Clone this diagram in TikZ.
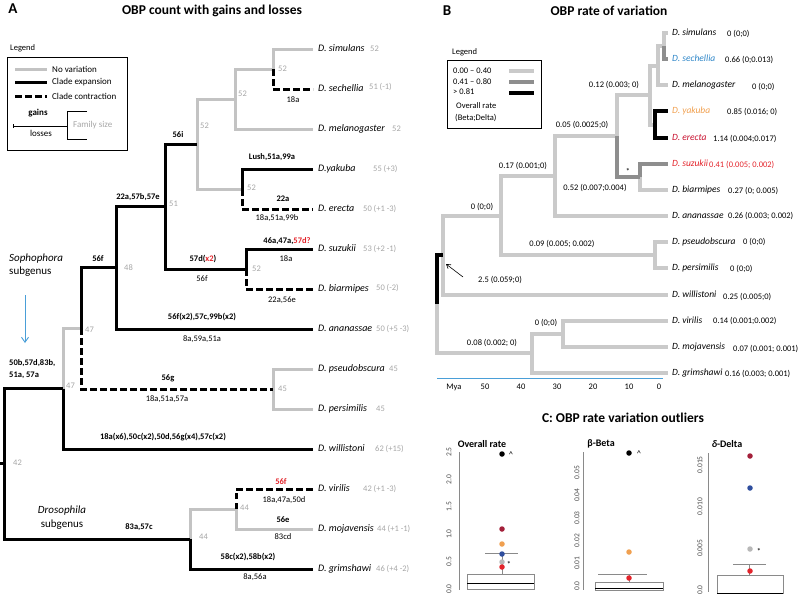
\documentclass[tikz,border=0pt]{standalone}
\usepackage{fontspec}
\setmainfont{Carlito}
\usetikzlibrary{arrows.meta}
\definecolor{lgA}{HTML}{C3C3C3}
\definecolor{cntc}{HTML}{A6A6A6}
\definecolor{lgB}{HTML}{CACACA}
\definecolor{mgB}{HTML}{8E8E8E}
\definecolor{redT}{HTML}{E3242B}
\definecolor{blueT}{HTML}{2E86C8}
\definecolor{orangeT}{HTML}{F0A050}
\definecolor{crim}{HTML}{C8102E}
\definecolor{axblue}{HTML}{4A9FD8}
\definecolor{dkred}{HTML}{A3203A}
\definecolor{dblue}{HTML}{2F4E9E}
\definecolor{dgray}{HTML}{B8B8B8}
\definecolor{boxgray}{HTML}{8A8A8A}
\begin{document}
\begin{tikzpicture}[x=1pt,y=-1pt,
  ga/.style={lgA, line width=3pt},
  ba/.style={black, line width=3pt},
  da/.style={black, line width=3pt, dash pattern=on 6.5pt off 3.5pt},
  lb/.style={lgB, line width=4pt},
  mb/.style={mgB, line width=4pt},
  kb/.style={black, line width=4pt},
  spa/.style={anchor=west, inner xsep=5pt, inner ysep=0pt, font=\fontsize{10}{12}\selectfont\itshape, text height=7pt, text depth=2pt},
  spb/.style={anchor=west, inner xsep=4pt, inner ysep=0pt, font=\fontsize{9.5}{11}\selectfont\itshape, text height=7pt, text depth=2pt},
  cn/.style={anchor=west, inner sep=0pt, text=cntc, font=\fontsize{8.5}{10}\selectfont, text height=7pt, text depth=2pt},
  gain/.style={inner sep=0pt, font=\fontsize{8.5}{10}\selectfont\bfseries},
  loss/.style={inner sep=0pt, font=\fontsize{8.5}{10}\selectfont},
  val/.style={anchor=west, inner sep=0pt, font=\fontsize{8.5}{10}\selectfont, text height=7pt, text depth=2pt},
  ttl/.style={font=\fontsize{13.5}{16}\selectfont\bfseries, inner sep=0pt},
  plet/.style={font=\fontsize{15}{18}\selectfont\bfseries, inner sep=0pt},
  lgt/.style={anchor=west, inner sep=0pt, font=\fontsize{9}{11}\selectfont},
  ylab/.style={font=\fontsize{7.5}{9}\selectfont, text=black!70, inner sep=0pt, rotate=90},
  cdot/.style={circle, inner sep=0pt, minimum size=5.5pt},
  subt/.style={font=\fontsize{10}{12}\selectfont\bfseries, inner sep=0pt},
  thinbox/.style={boxgray, line width=0.6pt}
]
\useasboundingbox (0,0) rectangle (800,595);

%%%%%%%%%%%%%%%% PANEL A %%%%%%%%%%%%%%%%
\node[plet] (letA) at (13,9) {A};
\node[ttl] (titA) at (212,11) {OBP count with gains and losses};

% legend A
\node[lgt, font=\fontsize{8.5}{10}\selectfont] (legA) at (10,48) {Legend};
\draw[line width=0.8pt] (7,57) rectangle (127,150);
\coordinate (lg1a) at (15,69); \coordinate (lg1b) at (47,69);
\coordinate (lg2a) at (15,82); \coordinate (lg2b) at (47,82);
\coordinate (lg3a) at (15,96); \coordinate (lg3b) at (47,96);
\draw[ga] (lg1a) -- (lg1b);
\draw[ba] (lg2a) -- (lg2b);
\draw[da] (lg3a) -- (lg3b);
\node[lgt] (lgNo) at (52,69) {No variation};
\node[lgt] (lgEx) at (52,82) {Clade expansion};
\node[lgt] (lgCo) at (52,96) {Clade contraction};
\node[gain, font=\fontsize{9}{11}\selectfont\bfseries] (lgG) at (38,113) {gains};
\node[loss, font=\fontsize{9}{11}\selectfont] (lgL) at (41,133) {losses};
\draw[line width=0.8pt] (13,124) -- (13,128);
\draw[line width=0.8pt] (13,126) -- (67,126);
\draw[line width=0.8pt] (87,111) -- (67,111) -- (67,139) -- (87,139);
\node[lgt, text=cntc] (lgF) at (73,125) {Family size};

% node coordinates
\coordinate (aStub) at (0,463.9);
\coordinate (aR) at (4,463.9);
\coordinate (aSo) at (63,388.7);
\coordinate (aMo) at (81,328.4);
\coordinate (a56f) at (116,267.75);
\coordinate (a22) at (165,206.5);
\coordinate (a56i) at (197,144);
\coordinate (aSsm) at (235,99);
\coordinate (aSs) at (273,69);
\coordinate (aYe) at (242,189);
\coordinate (aSb) at (246,269);
\coordinate (aOb) at (273,389);
\coordinate (aDr) at (190,539);
\coordinate (aVm) at (236,509);

% species
\node[spa] (sim) at (313,49) {D. simulans};
\node[spa] (sec) at (313,89) {D. sechellia};
\node[spa] (mel) at (313,129) {D. melanogaster};
\node[spa] (yak) at (313,169) {D.yakuba};
\node[spa] (ere) at (313,209) {D. erecta};
\node[spa] (suz) at (313,249) {D. suzukii};
\node[spa] (bia) at (313,289) {D. biarmipes};
\node[spa] (ana) at (313,329) {D. ananassae};
\node[spa] (pse) at (313,369) {D. pseudobscura};
\node[spa] (per) at (313,409) {D. persimilis};
\node[spa] (wil) at (313,449) {D. willistoni};
\node[spa] (vir) at (313,489) {D. virilis};
\node[spa] (moj) at (313,529) {D. mojavensis};
\node[spa] (gri) at (313,569) {D. grimshawi};

% counts
\node[cn] (csim) at (370,49) {52};
\node[cn] (csec) at (369,87) {51 (-1)};
\node[cn] (cmel) at (392,129) {52};
\node[cn] (cyak) at (373,169) {55 (+3)};
\node[cn] (cere) at (363,209) {50 (+1 -3)};
\node[cn] (csuz) at (363,249) {53 (+2 -1)};
\node[cn] (cbia) at (376,288) {50 (-2)};
\node[cn] (cana) at (376,329) {50 (+5 -3)};
\node[cn] (cpse) at (389,369) {45};
\node[cn] (cper) at (376,409) {45};
\node[cn] (cwil) at (375,449) {62 (+15)};
\node[cn] (cvir) at (363,489) {42 (+1 -3)};
\node[cn] (cmoj) at (377,529) {44 (+1 -1)};
\node[cn] (cgri) at (376,569) {46 (+4 -2)};

% branches: gray
\draw[ga] (aSo) |- (aMo);
\draw[ga] (aOb) |- (pse.west);
\draw[ga] (aOb) |- (per.west);
\draw[ga] (a56i) |- (aSsm);
\draw[ga] (a56i) |- (aYe);
\draw[ga] (aSsm) |- (aSs);
\draw[ga] (aSsm) |- (mel.west);
\draw[ga] (aSs) |- (sim.west);
\draw[ga] (aDr) |- (aVm);
\draw[ga] (aVm) |- (moj.west);
% black
\draw[ba] (aStub) -- (aR);
\draw[ba] (aR) |- (aSo);
\draw[ba] (aR) |- (aDr);
\draw[ba] (aSo) |- (wil.west);
\draw[ba] (aMo) |- (a56f);
\draw[ba] (a56f) |- (a22);
\draw[ba] (a56f) |- (ana.west);
\draw[ba] (a22) |- (a56i);
\draw[ba] (a22) |- (aSb);
\draw[ba] (aYe) |- (yak.west);
\draw[ba] (aSb) |- (suz.west);
\draw[ba] (aDr) |- (gri.west);
% dashed
\draw[da] (aMo) |- (aOb);
\draw[da] (aSs) |- (sec.west);
\draw[da] (aYe) |- (ere.west);
\draw[da] (aSb) |- (bia.west);
\draw[da] (aVm) |- (vir.west);

% node size labels
\node[cn] (nR) at (13,463) {42};
\node[cn] (nSo) at (66,386) {47};
\node[cn] (nMo) at (85,330) {47};
\node[cn] (n56f) at (124,268) {48};
\node[cn] (n22) at (169,204) {51};
\node[cn] (n56i) at (200,126) {52};
\node[cn] (nSsm) at (238,94) {52};
\node[cn] (nSs) at (278,69) {52};
\node[cn] (nYe) at (247,188) {52};
\node[cn] (nSb) at (252,269) {52};
\node[cn] (nOb) at (278,389) {45};
\node[cn] (nDr) at (199,537) {44};
\node[cn] (nVm) at (240,508) {44};

% gains / losses labels
\node[gain] (g56i) at (178,135) {56i};
\node[gain] (g22) at (138,197) {22a,57b,57e};
\node[gain] (g56f) at (98,259) {56f};
\node[gain] (g57d) at (203,259) {57d(\textcolor{redT}{x2})};
\node[loss] (l57d) at (202,279) {56f};
\node[gain] (gana) at (202,317) {56f(x2),57c,99b(x2)};
\node[loss] (lana) at (202,339) {8a,59a,51a};
\node[gain] (gobs) at (168,378) {56g};
\node[loss] (lobs) at (167,399) {18a,51a,57a};
\node[gain] (gwil) at (163,437) {18a(x6),50c(x2),50d,56g(x4),57c(x2)};
\node[gain, anchor=west] (gso1) at (9,363) {50b,57d,83b,};
\node[gain, anchor=west] (gso2) at (9,375) {51a, 57a};
\node[gain] (gdr) at (139,527) {83a,57c};
\node[gain] (ggri) at (248,557) {58c(x2),58b(x2)};
\node[loss] (lgri) at (255,577) {8a,56a};
\node[gain, text=redT] (gvir) at (281,482) {56f};
\node[loss] (lvir) at (284,500) {18a,47a,50d};
\node[gain] (gmoj) at (283,520) {56e};
\node[loss] (lmoj) at (283,537) {83cd};
\node[loss] (lsec) at (293,100) {18a};
\node[gain] (gyak) at (272,157) {Lush,51a,99a};
\node[gain] (gere) at (283,199) {22a};
\node[loss] (lere) at (277,218) {18a,51a,99b};
\node[gain] (gsuz) at (287,241) {46a,47a,\textcolor{redT}{57d?}};
\node[loss] (lsuz) at (286,259) {18a};
\node[loss] (lbia) at (282,300) {22a,56e};

% subgenus labels
\node[anchor=west, inner sep=0pt, font=\fontsize{11}{13}\selectfont\itshape] (sophT) at (9,259) {Sophophora};
\node[anchor=west, inner sep=0pt, font=\fontsize{11}{13}\selectfont] (sophS) at (9,272) {subgenus};
\coordinate (arrA) at (25,295); \coordinate (arrB) at (25,343);
\draw[axblue, line width=0.9pt, -{Straight Barb[length=5pt,width=7pt]}] (arrA) -- (arrB);
\node[inner sep=0pt, font=\fontsize{11}{13}\selectfont\itshape] (droT) at (62,511) {Drosophila};
\node[inner sep=0pt, font=\fontsize{11}{13}\selectfont] (droS) at (62,525) {subgenus};

%%%%%%%%%%%%%%%% PANEL B %%%%%%%%%%%%%%%%
\node[plet] (letB) at (447,11) {B};
\node[ttl] (titB) at (609,11) {OBP rate of variation};

\node[lgt, font=\fontsize{8.5}{10}\selectfont] (legB) at (452,52) {Legend};
\draw[line width=0.8pt] (447,60) rectangle (541,128);
\node[lgt, font=\fontsize{8.5}{10}\selectfont] (lb1) at (453,71) {0.00 – 0.40};
\node[lgt, font=\fontsize{8.5}{10}\selectfont] (lb2) at (453,82) {0.41 – 0.80};
\node[lgt, font=\fontsize{8.5}{10}\selectfont] (lb3) at (453,92) {> 0.81};
\node[lgt, font=\fontsize{8.5}{10}\selectfont] (lb4) at (456,106) {Overall rate};
\node[lgt, font=\fontsize{8.5}{10}\selectfont] (lb5) at (455,118) {(Beta;Delta)};
\coordinate (lbl1a) at (509,71); \coordinate (lbl1b) at (534,71);
\coordinate (lbl2a) at (509,82); \coordinate (lbl2b) at (534,82);
\coordinate (lbl3a) at (509,93); \coordinate (lbl3b) at (534,93);
\draw[lb] (lbl1a) -- (lbl1b);
\draw[mb] (lbl2a) -- (lbl2b);
\draw[kb] (lbl3a) -- (lbl3b);

\coordinate (bR) at (437,304.2);
\coordinate (bSo) at (443,255.1);
\coordinate (bS2) at (501,215.7);
\coordinate (bMe) at (555,176);
\coordinate (bN) at (617,136);
\coordinate (bMg) at (650,95.1);
\coordinate (bSsm) at (658,65.7);
\coordinate (bSs) at (664,46.1);
\coordinate (bYe) at (655,124.5);
\coordinate (bSb) at (640,176.8);
\coordinate (bOb) at (655,255.3);
\coordinate (bDr) at (532,353.3);
\coordinate (bVm) at (563,333.7);

\node[spb] (bsim) at (668,33) {D. simulans};
\node[spb, text=blueT] (bsec) at (668,59.15) {D. sechellia};
\node[spb] (bmel) at (668,85.3) {D. melanogaster};
\node[spb, text=orangeT] (byak) at (668,111.45) {D. yakuba};
\node[spb, text=crim] (bere) at (668,137.6) {D. erecta};
\node[spb, text=redT] (bsuz) at (668,163.75) {D. suzukii};
\node[spb] (bbia) at (668,189.9) {D. biarmipes};
\node[spb] (bana) at (668,216.05) {D. ananassae};
\node[spb] (bpse) at (668,242.2) {D. pseudobscura};
\node[spb] (bper) at (668,268.35) {D. persimilis};
\node[spb] (bwil) at (668,294.5) {D. willistoni};
\node[spb] (bvir) at (668,320.65) {D. virilis};
\node[spb] (bmoj) at (668,346.8) {D. mojavensis};
\node[spb] (bgri) at (668,372.95) {D. grimshawi};

\node[val] (vsim) at (727,34) {0 (0;0)};
\node[val] (vsec) at (725,60) {0.66 (0;0.013)};
\node[val] (vmel) at (752,87) {0 (0;0)};
\node[val] (vyak) at (727,112) {0.85 (0.016; 0)};
\node[val] (vere) at (713,139) {1.14 (0.004;0.017)};
\node[val, text=redT] (vsuz) at (709,165) {0.41 (0.005; 0.002)};
\node[val] (vbia) at (728,191) {0.27 (0; 0.005)};
\node[val] (vana) at (728,216) {0.26 (0.003; 0.002)};
\node[val] (vpse) at (743,242) {0 (0;0)};
\node[val] (vper) at (730,269) {0 (0;0)};
\node[val] (vwil) at (723,297) {0.25 (0.005;0)};
\node[val] (vvir) at (713,321) {0.14 (0.001;0.002)};
\node[val] (vmoj) at (733,349) {0.07 (0.001; 0.001)};
\node[val] (vgri) at (725,374) {0.16 (0.003; 0.001)};

% light branches
\draw[lb] (bR) |- (bDr);
\draw[lb] (bSo) |- (bS2);
\draw[lb] (bSo) |- (bwil.west);
\draw[lb] (bS2) |- (bMe);
\draw[lb] (bS2) |- (bOb);
\draw[lb] (bOb) |- (bpse.west);
\draw[lb] (bOb) |- (bper.west);
\draw[lb] (bMe) |- (bN);
\draw[lb] (bMe) |- (bana.west);
\draw[lb] (bN) |- (bMg);
\draw[lb] (bMg) |- (bSsm);
\draw[lb] (bMg) |- (bYe);
\draw[lb] (bSsm) |- (bSs);
\draw[lb] (bSsm) |- (bmel.west);
\draw[lb] (bSs) |- (bsim.west);
\draw[lb] (bSb) |- (bbia.west);
\draw[lb] (bDr) |- (bVm);
\draw[lb] (bDr) |- (bgri.west);
\draw[lb] (bVm) |- (bvir.west);
\draw[lb] (bVm) |- (bmoj.west);
% medium
\draw[mb] (bN) |- (bSb);
\draw[mb] (bSb) |- (bsuz.west);
\draw[mb] (bSs) |- (bsec.west);
% black
\draw[kb] (bR) |- (bSo);
\draw[kb] (bYe) |- (byak.west);
\draw[kb] (bYe) |- (bere.west);

% branch labels B
\node[loss] (b012) at (614,85) {0.12 (0.003; 0)};
\node[loss] (b005) at (582,125) {0.05 (0.0025;0)};
\node[loss] (b017) at (523,166) {0.17 (0.001;0)};
\node[loss] (b052) at (595,188) {0.52 (0.007;0.004)};
\node[loss] (bstar) at (628,171) {*};
\node[loss] (b000) at (482,207) {0 (0;0)};
\node[loss] (b009) at (562,244) {0.09 (0.005; 0.002)};
\node[loss] (b25) at (500,280) {2.5 (0.059;0)};
\node[loss] (b0vm) at (546,323) {0 (0;0)};
\node[loss] (b008) at (492,343) {0.08 (0.002; 0)};
\coordinate (arT) at (463,277); \coordinate (arH) at (446,264);
\draw[line width=0.6pt, -{Straight Barb[length=4pt,width=5pt]}] (arT) -- (arH);

% time axis
\coordinate (ax0) at (437,378.5); \coordinate (ax1) at (663,378.5);
\draw[axblue, line width=0.8pt] (ax0) -- (ax1);
\node[loss] (tMya) at (454,387) {Mya};
\node[loss] (t50) at (485,387) {50};
\node[loss] (t40) at (521,387) {40};
\node[loss] (t30) at (557,387) {30};
\node[loss] (t20) at (593,387) {20};
\node[loss] (t10) at (629,387) {10};
\node[loss] (t0) at (659,387) {0};

%%%%%%%%%%%%%%%% PANEL C %%%%%%%%%%%%%%%%
\node[ttl] (titC) at (623,418) {C: OBP rate variation outliers};

% plot 1
\node[subt] (c1t) at (482,444) {Overall rate};
\draw[thinbox] (459,452) -- (459,590);
\foreach \v/\lab in {0/0.0,0.5/0.5,1/1.0,1.5/1.5,2/2.0,2.5/2.5}
  \node[ylab] at (449,589-\v*54.8) {\lab};
\draw[thinbox] (467,574) rectangle (534,589);
\draw[line width=0.9pt] (467,583) -- (534,583);
\draw[thinbox] (502,553) -- (502,574);
\draw[thinbox] (485,553) -- (518,553);
\node[cdot, fill=black] (c1k) at (502,454) {};
\node[loss] (c1kc) at (511,455) {\^{}};
\node[cdot, fill=dkred] (c1dr) at (502,529) {};
\node[cdot, fill=orangeT] (c1o) at (502,544) {};
\node[cdot, fill=dblue] (c1b) at (502,554) {};
\node[cdot, fill=dgray] (c1g) at (502,562) {};
\node[loss] (c1s) at (509,564) {*};
\node[cdot, fill=redT] (c1r) at (502,567) {};

% plot 2
\node[subt] (c2t) at (601,444) {β-Beta};
\draw[thinbox] (583,452) -- (583,590);
\foreach \v/\lab in {0/0.0,1/0.01,2/0.02,3/0.03,4/0.04,5/0.05}
  \node[ylab] at (577,586-\v*22.7) {\lab};
\draw[thinbox] (595,582) rectangle (663,590);
\draw[line width=0.9pt] (595,588) -- (663,588);
\draw[thinbox] (629,574) -- (629,582);
\draw[thinbox] (598,574) -- (647,574);
\node[cdot, fill=black] (c2k) at (629,453) {};
\node[loss] (c2kc) at (639,454) {\^{}};
\node[cdot, fill=orangeT] (c2o) at (629,552) {};
\node[cdot, fill=redT] (c2r) at (629,578) {};

% plot 3
\node[subt] (c3t) at (727,444) {{\itshape δ}-Delta};
\draw[thinbox] (708,453) -- (708,592);
\foreach \v/\lab in {0/0.0,1/0.005,2/0.010,3/0.015}
  \node[ylab] at (700,590-\v*41.7) {\lab};
\draw[thinbox] (717,575) rectangle (783,593);
\draw[line width=0.9pt] (717,593) -- (783,593);
\draw[thinbox] (749,564) -- (749,575);
\draw[thinbox] (733,564) -- (766,564);
\node[cdot, fill=dkred] (c3dr) at (750,456) {};
\node[cdot, fill=dblue] (c3b) at (750,488) {};
\node[cdot, fill=dgray] (c3g) at (750,549) {};
\node[loss] (c3s) at (759,551) {*};
\node[cdot, fill=redT] (c3r) at (750,571) {};
\end{tikzpicture}
\end{document}
